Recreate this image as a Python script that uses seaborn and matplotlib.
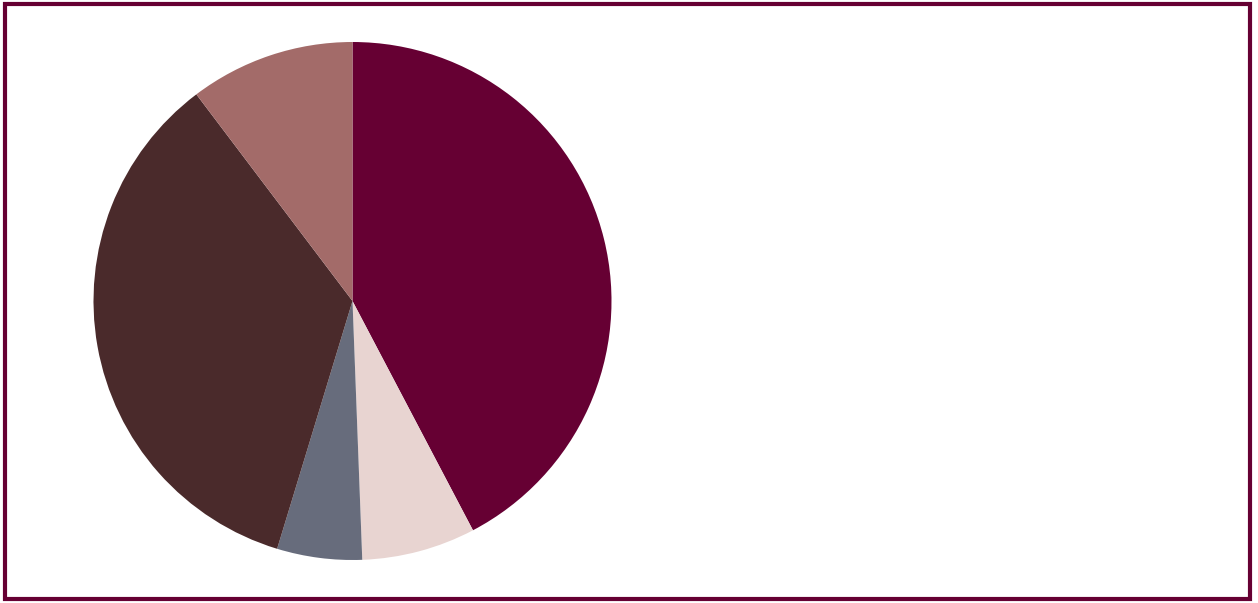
import matplotlib
matplotlib.use("Agg")
import matplotlib.pyplot as plt
from matplotlib.patches import Rectangle
import seaborn as sns

# Share of each segment (percent), drawn clockwise from 12 o'clock
segments = ["A", "B", "C", "D", "E"]
shares = [42.3, 7.1, 5.3, 35.0, 10.3]
colors = ["#660033", "#e8d4d1", "#676c7c", "#4a2a2b", "#a36b69"]

sns.set_style("white")
palette = sns.color_palette(colors)

W, H = 1258, 603
fig = plt.figure(figsize=(W / 100, H / 100), dpi=100)
fig.patch.set_facecolor("white")

# Pie axes: centre (352.5, 301) px from top-left, radius 259 px
cx, cy, r = 352.5, H - 301, 259
ax = fig.add_axes([(cx - r) / W, (cy - r) / H, 2 * r / W, 2 * r / H])
ax.pie(shares, colors=palette, startangle=90, counterclock=False,
       radius=1.0, wedgeprops=dict(linewidth=0))
ax.set_xlim(-1, 1)
ax.set_ylim(-1, 1)
ax.set_aspect("equal")
ax.axis("off")

# Frame around the whole chart
x0, y0, x1, y1 = 5, 4, 1250, 599
fig.patches.append(Rectangle((x0 / W, 1 - y1 / H), (x1 - x0) / W, (y1 - y0) / H,
                             transform=fig.transFigure, fill=False,
                             edgecolor="#660033", linewidth=3.0))

fig.savefig("out.png", dpi=100, facecolor="white")
